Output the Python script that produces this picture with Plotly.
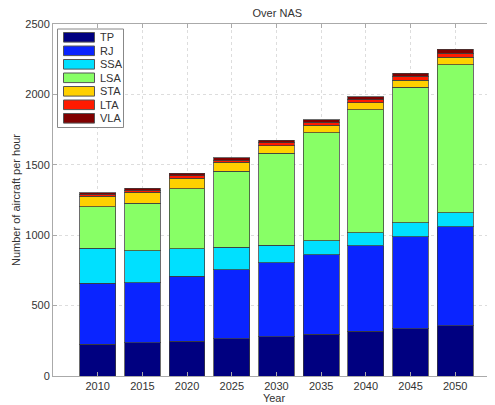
import plotly.graph_objects as go

years = [2010, 2015, 2020, 2025, 2030, 2035, 2040, 2045, 2050]
series_names = ["TP", "RJ", "SSA", "LSA", "STA", "LTA", "VLA"]
TP = [227, 237, 246, 263, 279, 298, 317, 334, 357]
RJ = [433, 426, 462, 492, 526, 564, 609, 656, 704]
SSA = [247, 225, 196, 161, 123, 99, 92, 99, 99]
LSA = [295, 338, 426, 537, 653, 767, 873, 961, 1051]
STA = [76, 78, 73, 64, 55, 52, 50, 52, 52]
LTA = [12, 17, 19, 17, 21, 24, 22, 26, 28]
VLA = [12, 14, 17, 16, 16, 17, 19, 21, 31]
y_ticks = [0, 500, 1000, 1500, 2000, 2500]

values = [TP, RJ, SSA, LSA, STA, LTA, VLA]
colors = ["#000080", "#0a24ff", "#00e0ff", "#88ff66", "#ffd000", "#ff1a00", "#800000"]

# figure geometry (page body has an 8px margin)
W, H = 487, 397
ML, MR, MT, MB = 45, 0, 16, 29
PW, PH = W - ML - MR, H - MT - MB

def px(fx):
    return (fx - ML) / PW

def py(fy):
    return 1 - (fy - MT) / PH

fig = go.Figure()
for name, vals, col in zip(series_names, values, colors):
    fig.add_trace(go.Bar(
        x=years, y=vals, name=name,
        marker=dict(color=col, line=dict(color="rgba(60,60,60,0.75)", width=1)),
        width=4, showlegend=False,
    ))

# compact legend (MATLAB-style)
shapes = [dict(type="rect", xref="paper", yref="paper",
               x0=px(49.5), x1=px(115.5), y0=py(21), y1=py(119.5),
               fillcolor="white", line=dict(color="#888", width=1), layer="above")]
annotations = []
for i, (name, col) in enumerate(zip(series_names, colors)):
    cy = 29.3 + 13.5 * i
    shapes.append(dict(type="rect", xref="paper", yref="paper",
                       x0=px(55.5), x1=px(86.5), y0=py(cy + 4.8), y1=py(cy - 4.8),
                       fillcolor=col, line=dict(color="#555", width=1), layer="above"))
    annotations.append(dict(text=name, xref="paper", yref="paper",
                            x=px(90), y=py(cy), xanchor="left", yanchor="middle",
                            showarrow=False, font=dict(size=11, color="#333")))

font = "Liberation Sans, Arial, sans-serif"
fig.update_layout(
    barmode="stack",
    width=W, height=H,
    margin=dict(l=ML, r=MR, t=MT, b=MB),
    paper_bgcolor="white", plot_bgcolor="white",
    font=dict(family=font, size=11, color="#333"),
    title=dict(text="Over NAS", x=0.553, xanchor="center", y=0.987, yanchor="middle",
               font=dict(size=11, color="#333")),
    showlegend=False,
    shapes=shapes,
    annotations=annotations,
)
fig.update_xaxes(
    range=[2005, 2054.45], tickvals=years, ticktext=[str(y) for y in years],
    showline=True, linecolor="#aaa", linewidth=1, mirror="ticks",
    ticks="inside", ticklen=4, tickcolor="#aaa",
    showgrid=True, gridcolor="#ddd", griddash="dot", zeroline=False,
    title=dict(text="Year", standoff=2, font=dict(size=11)),
)
fig.update_yaxes(
    range=[0, 2500], tickvals=y_ticks,
    showline=True, linecolor="#aaa", linewidth=1, mirror="ticks",
    ticks="inside", ticklen=4, tickcolor="#aaa",
    showgrid=True, gridcolor="#ddd", griddash="dot", zeroline=False,
    title=dict(text="Number of aircraft per hour", standoff=2, font=dict(size=11)),
)

fig.write_html("out.html")
